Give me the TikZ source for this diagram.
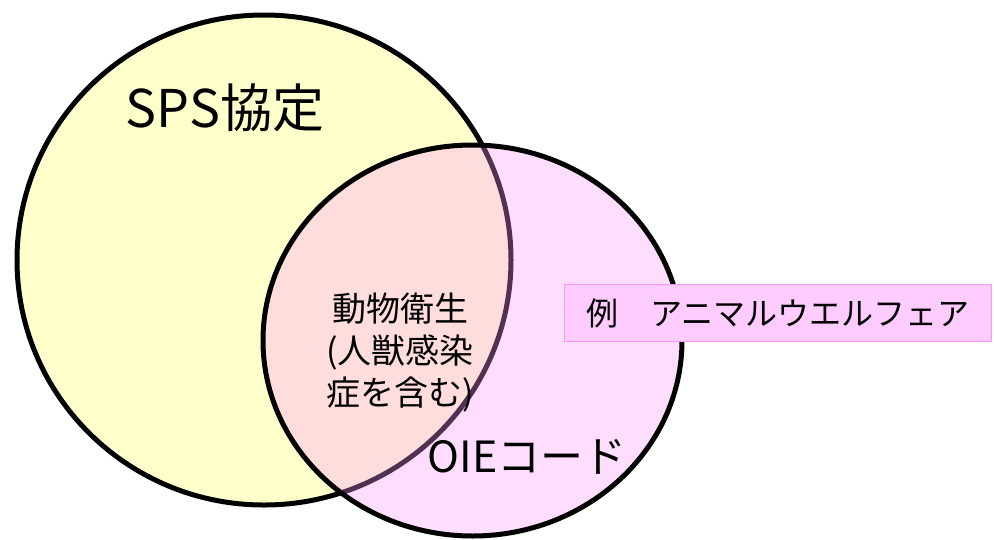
\documentclass[tikz,border=0pt]{standalone}
\usepackage{fontspec}
\setmainfont{Noto Sans CJK JP}
\usetikzlibrary{positioning,shapes.geometric}
\definecolor{vennyellow}{RGB}{255,255,204}
\definecolor{vennpink}{RGB}{255,150,255}
\definecolor{boxpink}{RGB}{255,204,255}
\definecolor{boxline}{RGB}{255,150,255}
\begin{document}
\begin{tikzpicture}[x=1pt,y=-1pt,
venn/.style={ellipse, draw=black, line width=5pt, inner sep=0pt},
caption/.style={inner sep=0pt, align=center}]
\useasboundingbox (0,0) rectangle (994,539);
\node[venn, fill=vennyellow, minimum width=494pt, minimum height=490pt] (sps) at (264,260) {};
\node[venn, fill=vennpink, fill opacity=0.32, minimum width=419pt, minimum height=391pt] (oie) at (472.5,340.5) {};

\node[caption, font=\fontsize{52}{52}\selectfont] (spsname) at (225,108) {SPS協定};
\node[caption, font=\fontsize{34}{42}\selectfont] (common) at (400,353) {動物衛生\\(人獣感染\\症を含む)};
\node[caption, font=\fontsize{43}{43}\selectfont] (oiename) at (527,457) {OIEコード};

\node[draw=boxline, fill=boxpink, line width=1pt, minimum width=427pt, minimum height=57pt,
  font=\fontsize{32}{32}\selectfont] (example) at (778,313) {例　アニマルウエルフェア};
\end{tikzpicture}
\end{document}
